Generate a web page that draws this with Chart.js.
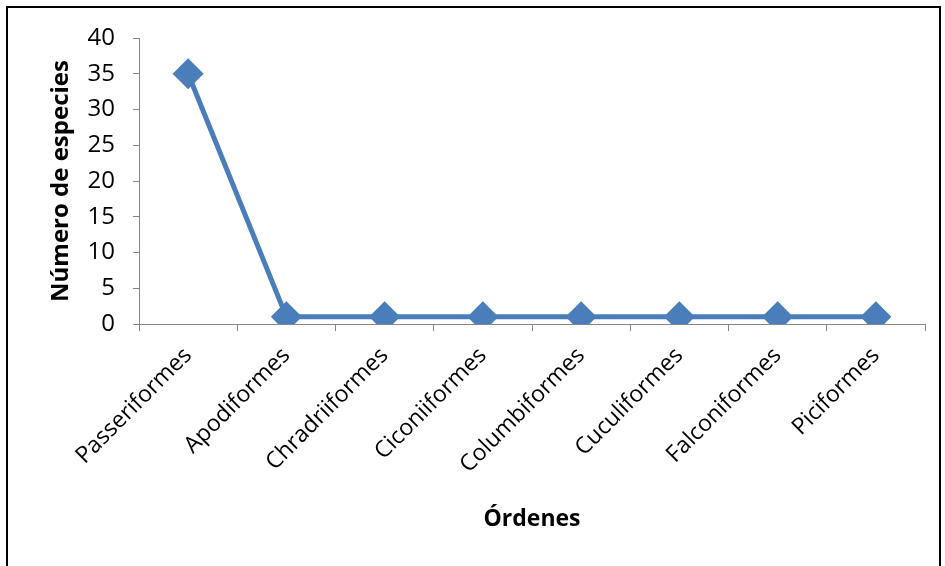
<!DOCTYPE html>
<html>
<head>
<meta charset="utf-8">
<script src="https://cdn.jsdelivr.net/npm/chart.js@4"></script>
<style>
  html, body { margin: 0; padding: 0; background: #fff; }
  #wrap { position: relative; width: 945px; height: 566px; }
</style>
</head>
<body>
<div id="wrap"><canvas id="chart" width="945" height="566"></canvas></div>
<script>
/* datos */
const ORDENES  = ['Passeriformes', 'Apodiformes', 'Chradriiformes', 'Ciconiiformes',
                  'Columbiformes', 'Cuculiformes', 'Falconiformes', 'Piciformes'];
const ESPECIES = [35, 1, 1, 1, 1, 1, 1, 1];
const Y_MIN = 0, Y_MAX = 40, Y_STEP = 5;

const LINE_COLOR = '#4A7EBB';
const AXIS_COLOR = '#868686';
const FONT = "'Open Sans', 'Liberation Sans', sans-serif";

/* marco negro alrededor del gráfico */
const framePlugin = {
  id: 'frame',
  afterDraw(chart) {
    const ctx = chart.ctx;
    ctx.save();
    ctx.strokeStyle = '#000';
    ctx.lineWidth = 2;
    ctx.strokeRect(7, 7, 933, 620);
    ctx.restore();
  }
};

new Chart(document.getElementById('chart'), {
  type: 'line',
  data: {
    labels: ORDENES,
    datasets: [{
      data: ESPECIES,
      borderColor: LINE_COLOR,
      backgroundColor: LINE_COLOR,
      borderWidth: 5,
      pointStyle: 'rectRot',
      pointRadius: 12,
      pointHoverRadius: 12,
      tension: 0,
    }]
  },
  options: {
    responsive: false,
    animation: false,
    layout: { padding: { left: 20, right: 20, top: 38, bottom: 0 } },
    plugins: { legend: { display: false }, tooltip: { enabled: false } },
    scales: {
      x: {
        offset: true,
        grid: {
          offset: true,
          drawOnChartArea: false,
          drawTicks: true,
          tickLength: 7,
          color: AXIS_COLOR,
        },
        border: { color: AXIS_COLOR, width: 1 },
        ticks: {
          color: '#000',
          font: { family: FONT, size: 23 },
          minRotation: 45,
          maxRotation: 45,
          padding: 11,
          autoSkip: false,
        },
        title: {
          display: true,
          text: 'Órdenes',
          color: '#000',
          font: { family: FONT, size: 23, weight: 'bold' },
          padding: { top: 0, bottom: 33 },
        },
        afterFit(s) { s.height = 566 - 324; }
      },
      y: {
        min: Y_MIN,
        max: Y_MAX,
        grid: {
          drawOnChartArea: false,
          drawTicks: true,
          tickLength: 6,
          color: AXIS_COLOR,
        },
        border: { color: AXIS_COLOR, width: 1 },
        ticks: {
          stepSize: Y_STEP,
          color: '#000',
          font: { family: FONT, size: 24 },
          padding: 18,
        },
        title: {
          display: true,
          text: 'Número de especies',
          color: '#000',
          font: { family: FONT, size: 24, weight: 'bold' },
          padding: { top: 27, bottom: 0 },
        },
        afterFit(s) { s.width = 139 - 20; }
      }
    }
  },
  plugins: [framePlugin]
});
</script>
</body>
</html>
